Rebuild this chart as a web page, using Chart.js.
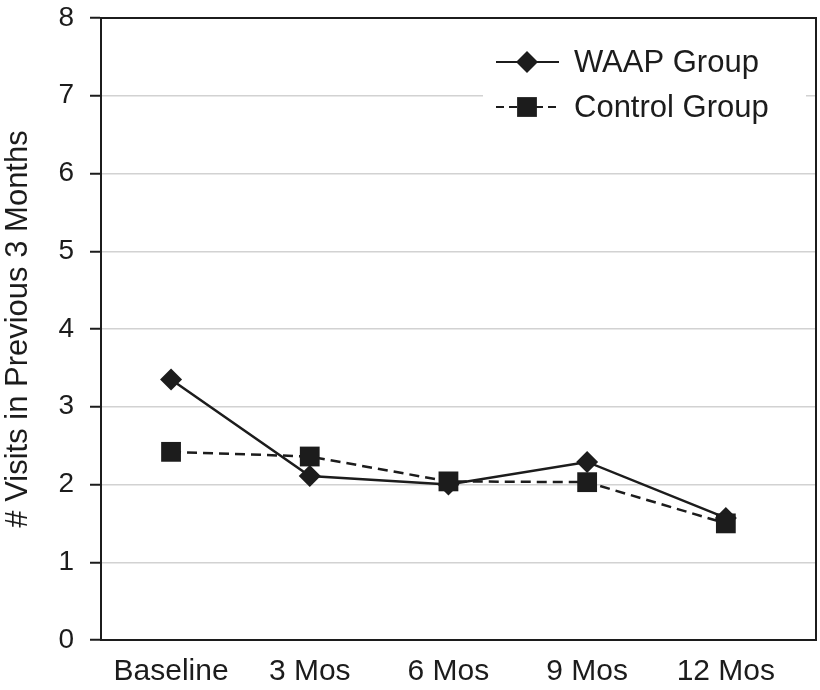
<!DOCTYPE html>
<html>
<head>
<meta charset="utf-8">
<script src="https://cdn.jsdelivr.net/npm/chart.js@4/dist/chart.umd.min.js"></script>
<style>
  html, body { margin: 0; padding: 0; background: #fff; }
  #wrap { width: 820px; height: 690px; }
</style>
</head>
<body>
<div id="wrap"><canvas id="chart" width="820" height="690"></canvas></div>
<script>
// datos
const categorias = ['Baseline', '3 Mos', '6 Mos', '9 Mos', '12 Mos'];
const waapValores = [3.35, 2.11, 2.0, 2.29, 1.57];
const controlValores = [2.42, 2.36, 2.04, 2.03, 1.5];
const ticksY = [0, 1, 2, 3, 4, 5, 6, 7, 8];

const FUENTE = '"Liberation Sans", Arial, Helvetica, sans-serif';
const NEGRO = '#1c1c1c';

const aPuntos = vals => vals.map((v, i) => ({ x: i, y: v }));

// borde superior/derecho + leyenda con fondo blanco
const marcoYLeyenda = {
    id: 'marcoYLeyenda',
    beforeDatasetsDraw(chart) {
        const ctx = chart.ctx;
        const a = chart.chartArea;
        ctx.save();
        // caja blanca de la leyenda (tapa la línea de la cuadrícula)
        ctx.fillStyle = '#fff';
        ctx.fillRect(483, 40, 323, 90);
        ctx.strokeStyle = NEGRO;
        ctx.lineWidth = 2;
        ctx.beginPath();
        ctx.moveTo(a.left, a.top);
        ctx.lineTo(a.right, a.top);
        ctx.lineTo(a.right, a.bottom);
        ctx.stroke();

        const filas = [62, 107];
        chart.data.datasets.forEach(ds => {
            const y = filas[ds.legendRow];
            ctx.strokeStyle = ds.borderColor;
            ctx.lineWidth = 2;
            ctx.setLineDash(ds.legendDash || []);
            ctx.beginPath();
            ctx.moveTo(496, y);
            ctx.lineTo(559, y);
            ctx.stroke();
            ctx.setLineDash([]);
            ctx.fillStyle = ds.pointBackgroundColor;
            Chart.helpers.drawPoint(ctx, { pointStyle: ds.pointStyle, radius: ds.pointRadius, rotation: 0, borderWidth: 0 }, 527, y);
            ctx.fillStyle = NEGRO;
            ctx.font = '31px ' + FUENTE;
            ctx.textBaseline = 'middle';
            ctx.textAlign = 'left';
            ctx.fillText(ds.label, 574, y + 1);
        });
        ctx.restore();
    }
};

const ctx = document.getElementById('chart').getContext('2d');
new Chart(ctx, {
    type: 'line',
    data: {
        datasets: [
            {
                label: 'WAAP Group',
                data: aPuntos(waapValores),
                borderColor: NEGRO,
                borderWidth: 2.5,
                pointStyle: 'rectRot',
                pointRadius: 11,
                pointBackgroundColor: NEGRO,
                pointBorderWidth: 0,
                legendRow: 0,
                order: 1
            },
            {
                label: 'Control Group',
                data: aPuntos(controlValores),
                borderColor: NEGRO,
                borderWidth: 2.5,
                borderDash: [10, 6],
                legendDash: [8, 5],
                pointStyle: 'rect',
                pointRadius: 14,
                pointBackgroundColor: NEGRO,
                pointBorderWidth: 0,
                legendRow: 1,
                order: 0
            }
        ]
    },
    options: {
        responsive: false,
        animation: false,
        layout: { autoPadding: false, padding: { top: 18, right: 4, left: 0, bottom: 0 } },
        plugins: {
            legend: { display: false },
            tooltip: { enabled: false }
        },
        scales: {
            x: {
                type: 'linear',
                min: -0.505,
                max: 4.65,
                afterBuildTicks: s => { s.ticks = categorias.map((_, i) => ({ value: i })); },
                afterFit: s => { s.height = 50; s.paddingLeft = 0; s.paddingRight = 0; },
                grid: { display: false, drawTicks: false },
                border: { display: true, color: NEGRO, width: 2 },
                ticks: {
                    padding: 14,
                    color: NEGRO,
                    font: { family: FUENTE, size: 30 },
                    maxRotation: 0,
                    autoSkip: false,
                    callback: v => categorias[v]
                }
            },
            y: {
                min: 0,
                max: 8,
                afterBuildTicks: s => { s.ticks = ticksY.map(v => ({ value: v })); },
                afterFit: s => { s.width = 101; s.paddingTop = 0; s.paddingBottom = 0; },
                grid: { color: '#d2d2d2', lineWidth: 1.5, tickColor: NEGRO, tickLength: 11, tickWidth: 2 },
                border: { display: true, color: NEGRO, width: 2 },
                ticks: {
                    padding: 16,
                    color: NEGRO,
                    font: { family: FUENTE, size: 28 }
                },
                title: {
                    display: true,
                    text: '# Visits in Previous 3 Months',
                    color: NEGRO,
                    font: { family: FUENTE, size: 31, weight: 'normal' },
                    padding: 0
                }
            }
        }
    },
    plugins: [marcoYLeyenda]
});
</script>
</body>
</html>
